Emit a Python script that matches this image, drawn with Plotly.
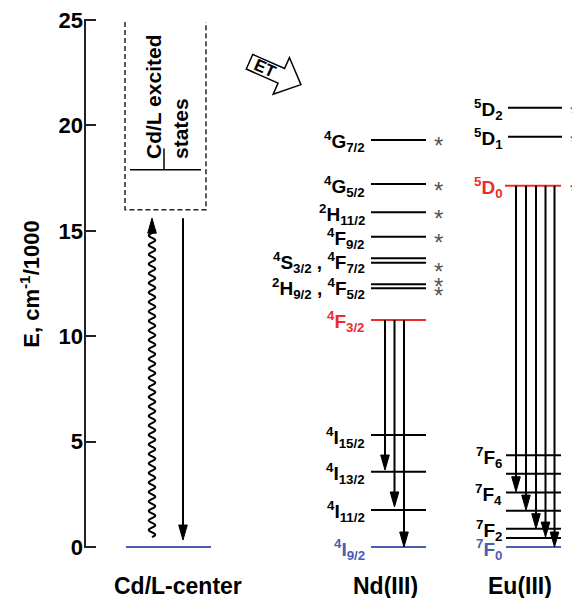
import numpy as np
import plotly.graph_objects as go

# ---------------- data (energies in 1000 cm^-1) ----------------
y_ticks = [0, 5, 10, 15, 20, 25]

cd_ground = 0.0
cd_box_bottom = 16.0
cd_box_top = 24.9
cd_excited_level = 17.9
cd_excited_mark_top = 18.9
cd_wave_range = [0.47, 15.6]      # wavy (non-radiative) arrow, bottom -> head
cd_emit_range = [15.6, 0.33]      # straight arrow, top -> head

nd_upper_levels = [19.31, 17.22, 15.88, 14.72, 13.70, 13.49, 12.46, 12.27]
nd_upper_labels = ["<sup>4</sup>G<sub>7/2</sub>", "<sup>4</sup>G<sub>5/2</sub>",
                   "<sup>2</sup>H<sub>11/2</sub>", "<sup>4</sup>F<sub>9/2</sub>",
                   "<sup>4</sup>S<sub>3/2</sub> , <sup>4</sup>F<sub>7/2</sub>",
                   "<sup>2</sup>H<sub>9/2</sub> , <sup>4</sup>F<sub>5/2</sub>"]
nd_upper_label_y = [19.31, 17.22, 15.88, 14.72, 13.60, 12.36]
nd_star_y = [19.31, 17.22, 15.88, 14.72, 13.35, 12.62, 12.22]
nd_emitting = 10.77
nd_emitting_label = "<sup>4</sup>F<sub>3/2</sub>"
nd_lower_levels = [5.31, 3.57, 1.76]
nd_lower_labels = ["<sup>4</sup>I<sub>15/2</sub>", "<sup>4</sup>I<sub>13/2</sub>",
                   "<sup>4</sup>I<sub>11/2</sub>"]
nd_ground = 0.0
nd_ground_label = "<sup>4</sup>I<sub>9/2</sub>"
nd_arrow_ends = [3.65, 1.90, 0.0]

eu_upper_levels = [20.84, 19.46]
eu_upper_labels = ["<sup>5</sup>D<sub>2</sub>", "<sup>5</sup>D<sub>1</sub>"]
eu_emitting = 17.14
eu_emitting_label = "<sup>5</sup>D<sub>0</sub>"
eu_star_y = [20.84, 19.46, 17.14]
eu_lower_levels = [4.35, 3.48, 2.58, 1.72, 0.87, 0.43]
eu_lower_labels = ["<sup>7</sup>F<sub>6</sub>", "", "<sup>7</sup>F<sub>4</sub>", "",
                   "<sup>7</sup>F<sub>2</sub>", ""]
eu_ground = 0.0
eu_ground_label = "<sup>7</sup>F<sub>0</sub>"
eu_arrow_ends = [2.62, 1.75, 0.87, 0.47, 0.0]

column_names = ["Cd/L-center", "Nd(III)", "Eu(III)"]

# ---------------- styling / geometry ----------------
FONT = "Liberation Sans, Arial, sans-serif"
RED = "#ee2b2b"
BLUE = "#4a5db5"
GRAY = "#555555"
W, H = 572, 598
MT, MB, ML = 10, 40, 84
PX0, PXU = 547.0, 21.08            # pixel of E=0, pixels per 1000 cm^-1
y_range = [(PX0 - (H - MB)) / PXU, (PX0 - MT) / PXU]
def pv(py):                         # pixel row -> axis value (for decorations)
    return (PX0 - py) / PXU

cd_x = [126, 211]; nd_x = [371, 426]; eu_x = [506, 561]
nd_arrow_x = [385, 394.5, 404]
eu_arrow_x = [516, 526, 536, 545.5, 554.5]
cd_wave_x, cd_emit_x = 152, 183
head_len, head_half = 15 / PXU, 4.3
LBL = 19

fig = go.Figure()

def hlines(xs, ys, color, width=2):
    X, Y = [], []
    for y in ys:
        X += [xs[0], xs[1], None]; Y += [y, y, None]
    fig.add_trace(go.Scatter(x=X, y=Y, mode="lines", line=dict(color=color, width=width),
                             hoverinfo="skip", showlegend=False))

def arrows(xs, y0s, y1s, width=2):
    X, Y, HX, HY = [], [], [], []
    for x, a, b in zip(xs, y0s, y1s):
        d = 1 if b > a else -1
        X += [x, x, None]; Y += [a, b - d * head_len * 0.6, None]
        HX += [x, x - head_half, x + head_half, x, None]
        HY += [b, b - d * head_len, b - d * head_len, b, None]
    fig.add_trace(go.Scatter(x=X, y=Y, mode="lines", line=dict(color="black", width=width),
                             hoverinfo="skip", showlegend=False))
    fig.add_trace(go.Scatter(x=HX, y=HY, mode="lines", fill="toself", fillcolor="black",
                             line=dict(color="black", width=1), hoverinfo="skip", showlegend=False))

# Cd/L center
hlines(cd_x, [cd_ground], BLUE)
fig.add_shape(type="path", path=f"M 125,{cd_box_top} L 125,{cd_box_bottom} L 206,{cd_box_bottom} L 206,{cd_box_top}",
              line=dict(color="#222", width=1.5, dash="5px,3px"))
hlines([130, 201], [cd_excited_level], "black", 1.5)
fig.add_trace(go.Scatter(x=[164, 164], y=[cd_excited_level, cd_excited_mark_top], mode="lines",
                         line=dict(color="black", width=1.5), hoverinfo="skip", showlegend=False))
# wavy arrow
wy = np.linspace(cd_wave_range[0], cd_wave_range[1] - head_len * 0.8, 1500)
period = 9.5 / PXU
wx = cd_wave_x + 3.2 * np.sin(2 * np.pi * (wy - wy[0]) / period)
fig.add_trace(go.Scatter(x=wx, y=wy, mode="lines", line=dict(color="black", width=2, shape="spline"),
                         hoverinfo="skip", showlegend=False))
arrows([cd_wave_x], [cd_wave_range[1] - head_len], [cd_wave_range[1]])
arrows([cd_emit_x], [cd_emit_range[0]], [cd_emit_range[1]])

# Nd levels
hlines(nd_x, nd_upper_levels, "black")
hlines(nd_x, nd_lower_levels, "black")
hlines(nd_x, [nd_emitting], RED)
hlines(nd_x, [nd_ground], BLUE)
arrows(nd_arrow_x, [nd_emitting] * 3, nd_arrow_ends)

# Eu levels
hlines([508, 562], eu_upper_levels, "black")
hlines(eu_x, eu_lower_levels, "black")
hlines([505, 561], [eu_emitting], RED)
hlines(eu_x, [eu_ground], BLUE)
arrows(eu_arrow_x, [eu_emitting] * 5, eu_arrow_ends)

# y axis line
fig.add_shape(type="line", x0=85, x1=85, y0=0, y1=25, line=dict(color="#222", width=2))

# ET block arrow
th = np.deg2rad(24); ox, oy = 249.5, 61.7
loc = [(0, -8), (34.8, -8), (34.8, -20), (56.3, 0), (34.8, 20), (34.8, 8), (0, 8)]
pts = [(ox + u * np.cos(th) - v * np.sin(th), oy + u * np.sin(th) + v * np.cos(th)) for u, v in loc]
path = "M " + " L ".join(f"{x:.2f},{pv(y):.4f}" for x, y in pts) + " Z"
fig.add_shape(type="path", path=path, fillcolor="white", line=dict(color="black", width=1.5))

ann = []
def label(x, y, text, color="black", size=LBL, xanchor="right", yshift=-2, **kw):
    ann.append(dict(x=x, y=y, xref="x", yref="y", text=text, showarrow=False,
                    xanchor=xanchor, yanchor="middle", yshift=yshift,
                    font=dict(family=FONT, size=size, color=color, weight="bold"), **kw))

for t, y in zip(nd_upper_labels, nd_upper_label_y):
    label(367, y, t)
label(367, nd_emitting, nd_emitting_label, RED)
for t, y in zip(nd_lower_labels, nd_lower_levels):
    label(367, y, t)
label(367, nd_ground, nd_ground_label, BLUE)
for t, y in zip(eu_upper_labels, eu_upper_levels):
    label(505, y, t)
label(505, eu_emitting, eu_emitting_label, RED)
for t, y in zip(eu_lower_labels, eu_lower_levels):
    if t:
        label(504, y, t)
label(504, eu_ground, eu_ground_label, BLUE)

for y in nd_star_y:
    ann.append(dict(x=438, y=y, xref="x", yref="y", text="*", showarrow=False, xanchor="center",
                    yanchor="middle", yshift=-6, font=dict(family=FONT, size=24, color=GRAY)))
for y in eu_star_y:
    ann.append(dict(x=571.8, y=y, xref="x", yref="y", text="*", showarrow=False, xanchor="left",
                    xshift=-4, yanchor="middle", yshift=-6, font=dict(family=FONT, size=24, color=GRAY)))

# Cd/L excited states text
ann.append(dict(x=167, y=pv(97), xref="x", yref="y", text="<b>Cd/L excited</b><br><b>states</b>",
                showarrow=False, textangle=-90, align="left", xanchor="center", yanchor="middle",
                font=dict(family=FONT, size=21, color="black", weight="bold")))
# ET text
ann.append(dict(x=265, y=pv(68.6), xref="x", yref="y", text="<b>ET</b>", showarrow=False,
                textangle=24, xanchor="center", yanchor="middle",
                font=dict(family=FONT, size=17, color="black", weight="bold")))
# column names
for t, x in zip(column_names, [178, 385, 520]):
    ann.append(dict(x=x, y=(H - MB - 586) / (H - MT - MB), xref="x", yref="paper",
                    text=t, showarrow=False, xanchor="center", yanchor="middle",
                    font=dict(family=FONT, size=23, color="black", weight="bold")))

fig.update_layout(
    width=W, height=H, margin=dict(l=ML, r=0, t=MT, b=MB, autoexpand=False),
    plot_bgcolor="white", paper_bgcolor="white",
    annotations=ann,
    xaxis=dict(range=[ML, W], visible=False, fixedrange=True, automargin=False),
    yaxis=dict(range=y_range, tickvals=y_ticks, ticks="inside", ticklen=12, tickwidth=2,
               tickcolor="#222", showline=False, showgrid=False, zeroline=False,
               automargin=False,
               tickfont=dict(family=FONT, size=22, color="black", weight="bold"),
               ticklabelstandoff=0,
               title=dict(text="E, cm<sup>-1</sup>/1000", standoff=12,
                          font=dict(family=FONT, size=22, color="black", weight="bold"))),
)
fig.write_html("out.html", config={"displayModeBar": False},
               post_script="document.body.style.margin='0px';document.body.style.padding='0px';")
